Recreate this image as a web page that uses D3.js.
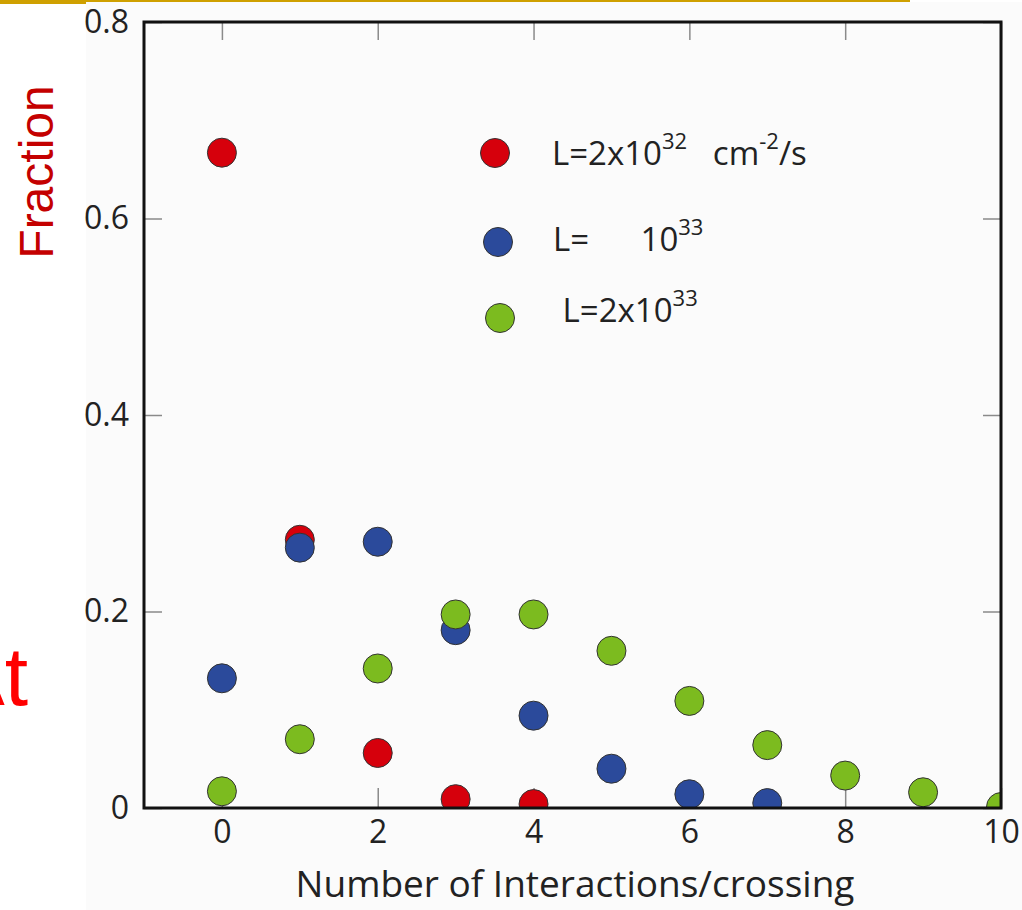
<!DOCTYPE html>
<html>
<head>
<meta charset="utf-8">
<script src="https://cdn.jsdelivr.net/npm/d3@7"></script>
<style>
  body { margin: 0; background: #fff; }
  .tick text { font-family: "Open Sans", sans-serif; fill: #222; }
</style>
</head>
<body>
<div id="plot"></div>
<script>
// data
var xTicks = [0, 2, 4, 6, 8, 10];
var yTicks = [0, 0.2, 0.4, 0.6, 0.8];

var redX = [0, 1, 2, 3, 4];
var redY = [0.667, 0.273, 0.056, 0.009, 0.004];

var blueX = [0, 1, 2, 3, 4, 5, 6, 7];
var blueY = [0.132, 0.265, 0.271, 0.181, 0.094, 0.040, 0.014, 0.005];

var greenX = [0, 1, 2, 3, 4, 5, 6, 7, 8, 9, 10];
var greenY = [0.017, 0.070, 0.142, 0.197, 0.197, 0.160, 0.109, 0.064, 0.033, 0.016, 0.001];

var seriesNames = ['L=2x10^32   cm^-2/s', 'L=      10^33', ' L=2x10^33'];
var seriesColors = ['#d6000c', '#2b4a9b', '#7cbb1f'];

/* canvas */
var W = 1022, H = 910;
var margin = {t:22, r:20, b:102, l:144};

var svg = d3.select('#plot')
  .append('svg')
  .attr('width', W)
  .attr('height', H);

// slide decoration
svg.append('rect').attr('x', 0).attr('y', 0).attr('width', 910).attr('height', 4).style('fill', '#cfa000');
svg.append('rect').attr('x', 86).attr('y', 2).attr('width', W - 86).attr('height', H).style('fill', '#fbfbfb');

svg.append('text')
  .attr('transform', 'translate(53,172) rotate(-90)')
  .attr('text-anchor', 'middle')
  .style('font-family', '"Liberation Sans", Arial, sans-serif')
  .style('font-size', '48px')
  .style('fill', '#c40000')
  .text('Fraction');

svg.append('text')
  .attr('x', 28).attr('y', 705)
  .attr('text-anchor', 'end')
  .style('font-family', '"Liberation Sans", Arial, sans-serif')
  .style('font-size', '84px')
  .style('fill', '#ff0000')
  .text('At');

var x = d3.scaleLinear().domain([-1, 10]).range([margin.l, 1001]);
var y = d3.scaleLinear().domain([0, 0.8]).range([808, margin.t]);

var plot = svg.append('g');

// axes, ticks pointing inward
function styleAxis(g) {
  g.select('.domain').remove();
  g.selectAll('.tick line').style('stroke', '#8a8a8a').style('stroke-width', 1.5);
  g.selectAll('.tick text').style('font-size', '32px');
}

plot.append('g')
  .attr('transform', 'translate(0,' + y(0) + ')')
  .call(d3.axisBottom(x).tickValues(xTicks).tickSize(-20).tickPadding(12).tickFormat(d3.format('d')))
  .call(styleAxis);

plot.append('g')
  .attr('transform', 'translate(0,' + y(0.8) + ')')
  .call(d3.axisTop(x).tickValues(xTicks).tickSize(-18).tickFormat(''))
  .call(styleAxis);

plot.append('g')
  .attr('transform', 'translate(' + x(-1) + ',0)')
  .call(d3.axisLeft(y).tickValues(yTicks).tickSize(-18).tickPadding(15)
    .tickFormat(function (d) { return d === 0 ? '0' : d3.format('.1f')(d); }))
  .call(styleAxis);

plot.append('g')
  .attr('transform', 'translate(' + x(10) + ',0)')
  .call(d3.axisRight(y).tickValues(yTicks).tickSize(-18).tickFormat(''))
  .call(styleAxis);

svg.append('clipPath').attr('id', 'clip')
  .append('rect')
  .attr('x', x(-1)).attr('y', y(0.8))
  .attr('width', x(10) - x(-1)).attr('height', y(0) - y(0.8));

var series = [
  {xs: redX, ys: redY, color: seriesColors[0]},
  {xs: blueX, ys: blueY, color: seriesColors[1]},
  {xs: greenX, ys: greenY, color: seriesColors[2]}
];

var dots = plot.append('g').attr('clip-path', 'url(#clip)');
series.forEach(function (s) {
  var pts = s.xs.map(function (v, i) { return {x: v, y: s.ys[i]}; });
  dots.selectAll(null)
    .data(pts)
    .enter()
    .append('circle')
    .attr('cx', function (d) { return x(d.x); })
    .attr('cy', function (d) { return y(d.y); })
    .attr('r', 14.5)
    .style('fill', s.color)
    .style('stroke', '#333')
    .style('stroke-width', 1);
});

// frame
plot.append('rect')
  .attr('x', x(-1)).attr('y', y(0.8))
  .attr('width', x(10) - x(-1)).attr('height', y(0) - y(0.8))
  .style('fill', 'none')
  .style('stroke', '#111')
  .style('stroke-width', 3);

plot.append('text')
  .attr('x', 575).attr('y', 897)
  .attr('text-anchor', 'middle')
  .style('font-family', '"Open Sans", sans-serif')
  .style('font-size', '37px')
  .style('fill', '#222')
  .text('Number of Interactions/crossing');

// legend
var legendPos = [
  {cx: 495, cy: 153, tx: 552, ty: 165},
  {cx: 498, cy: 242, tx: 553, ty: 251},
  {cx: 500, cy: 318, tx: 554, ty: 322}
];
var legend = plot.append('g');
seriesNames.forEach(function (name, i) {
  var p = legendPos[i];
  legend.append('circle')
    .attr('cx', p.cx).attr('cy', p.cy).attr('r', 14.5)
    .style('fill', seriesColors[i])
    .style('stroke', '#333')
    .style('stroke-width', 1);
  var t = legend.append('text')
    .attr('x', p.tx).attr('y', p.ty)
    .style('font-family', '"Open Sans", sans-serif')
    .style('font-size', '33px')
    .style('fill', '#222')
    .attr('xml:space', 'preserve');
  // split "base^sup" pieces
  var parts = name.split(/(\^-?\d+)/).filter(function (s) { return s !== ''; });
  var raised = false;
  parts.forEach(function (part) {
    if (part[0] === '^') {
      t.append('tspan').attr('dy', -16).style('font-size', '22px').text(part.slice(1));
      raised = true;
    } else {
      t.append('tspan').attr('dy', raised ? 16 : 0).text(part);
      raised = false;
    }
  });
});
</script>
</body>
</html>
